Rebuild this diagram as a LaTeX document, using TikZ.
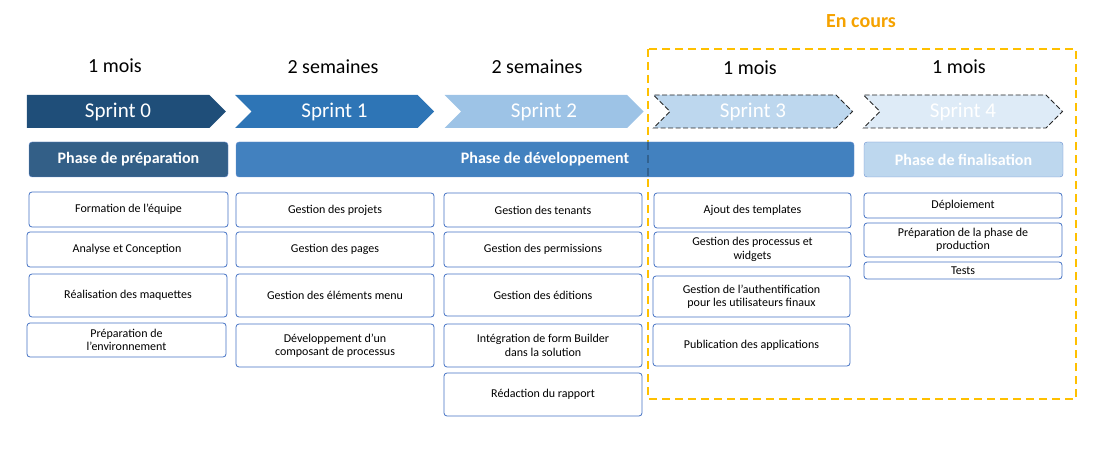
\documentclass[tikz,border=0pt]{standalone}
\usepackage{fontspec}
\setmainfont{Carlito}
\usetikzlibrary{positioning,shapes.symbols}

\definecolor{sprintzero}{HTML}{1F4E79}
\definecolor{sprintone}{HTML}{2E75B6}
\definecolor{sprinttwo}{HTML}{9DC3E6}
\definecolor{sprintthree}{HTML}{BDD7EE}
\definecolor{sprintfour}{HTML}{DEEBF7}
\definecolor{phaseprep}{HTML}{335F87}
\definecolor{phasedev}{HTML}{4281BF}
\definecolor{phasefin}{HTML}{BDD7EE}
\definecolor{boxline}{HTML}{4472C4}
\definecolor{encours}{HTML}{FFC000}
\definecolor{encourstext}{HTML}{F5A200}

\begin{document}
\begin{tikzpicture}[
        x=1pt, y=-1pt,
        sprint/.style={
            signal,
            signal to=east,
            signal from=west,
            signal pointer angle=90,
            minimum height=33pt,
            minimum width=199pt,
            inner sep=0pt,
            text=white,
            font=\fontsize{21}{24}\selectfont
        },
        todo/.style={
            sprint,
            draw=black!85,
            dash pattern=on 5pt off 2.5pt,
            line width=0.9pt
        },
        duration/.style={
            font=\fontsize{20}{24}\selectfont
        },
        phase/.style={
            rectangle,
            draw=boxline!80,
            rounded corners=3pt,
            minimum height=35pt,
            inner sep=0pt,
            text=white,
            font=\fontsize{16}{18}\selectfont\bfseries
        },
        task/.style={
            rectangle,
            draw=boxline,
            fill=white,
            line width=0.8pt,
            rounded corners=3pt,
            minimum width=198pt,
            minimum height=35pt,
            inner sep=0pt,
            align=center,
            font=\fontsize{12}{13.5}\selectfont
        }
    ]
    \useasboundingbox (0,0) rectangle (1094,449);

    % Current sprints frame
    \node[font=\fontsize{20}{24}\selectfont\bfseries, text=encourstext] (encours) at (861,21) {En cours};
    \draw[encours, line width=2.6pt, dash pattern=on 8pt off 5pt] (648,49) rectangle (1076,399);

    % Durations
    \node[duration] (d0) at (115,66) {1 mois};
    \node[duration] (d1) at (333,67) {2 semaines};
    \node[duration] (d2) at (537,67) {2 semaines};
    \node[duration] (d3) at (750,68) {1 mois};
    \node[duration] (d4) at (959,67) {1 mois};

    % Sprints
    \node[sprint, signal from=nowhere, fill=sprintzero] (s0) at (118,111.5) {Sprint 0};
    \node[sprint, fill=sprintone] (s1) at (334.5,111.5) {Sprint 1};
    \node[sprint, fill=sprinttwo] (s2) at (544,111.5) {Sprint 2};
    \node[todo, fill=sprintthree] (s3) at (753,111.5) {Sprint 3};
    \node[todo, fill=sprintfour] (s4) at (963,111.5) {Sprint 4};

    % Phases
    \node[phase, fill=phaseprep, minimum width=199pt] (prep) at (128.5,159.5) {Phase de préparation};
    \node[phase, fill=phasedev, minimum width=618pt] (dev) at (545,159.5) {Phase de développement};
    \node[phase, fill=phasefin, minimum width=199pt] (fin) at (963.5,159.5) {Phase de finalisation};
    % frame seen through the development phase
    \draw[phasedev!60!black, opacity=0.6, line width=2pt, dash pattern=on 8pt off 5pt] (dev.north -| encours.center) ++(-213,0) -- ++(0,35);

    % Sprint 0 tasks
    \node[task, minimum width=199pt] (t0a) at (128.5,209.5) {Formation de l’équipe};
    \node[task, minimum width=200pt] (t0b) at (127,249.5) {Analyse et Conception};
    \node[task, minimum height=43pt] (t0c) at (128,295.5) {Réalisation des maquettes};
    \node[task, minimum width=199pt, minimum height=34pt] (t0d) at (126.5,340) {Préparation de\\l’environnement};

    % Sprint 1 tasks
    \node[task, minimum height=34pt] (t1a) at (335,210) {Gestion des projets};
    \node[task] (t1b) at (335,249.5) {Gestion des pages};
    \node[task, minimum height=43pt] (t1c) at (335,295.5) {Gestion des éléments menu};
    \node[task, minimum height=43pt] (t1d) at (335,345.5) {Développement d'un\\composant de processus};

    % Sprint 2 tasks
    \node[task, minimum height=34pt] (t2a) at (543,210) {Gestion des tenants};
    \node[task] (t2b) at (543,249.5) {Gestion des permissions};
    \node[task, minimum height=42pt] (t2c) at (543,295) {Gestion des éditions};
    \node[task, minimum height=43pt] (t2d) at (543,345.5) {Intégration de form Builder\\dans la solution};
    \node[task, minimum height=43pt] (t2e) at (543,394.5) {Rédaction du rapport};

    % Sprint 3 tasks
    \node[task, minimum width=197pt] (t3a) at (752.5,210.5) {Ajout des templates};
    \node[task, minimum width=197pt] (t3b) at (752.5,249.5) {Gestion des processus et\\widgets};
    \node[task, minimum width=197pt, minimum height=41pt] (t3c) at (751.5,296.5) {Gestion de l'authentification\\pour les utilisateurs finaux};
    \node[task, minimum width=197pt, minimum height=42pt] (t3d) at (751.5,345) {Publication des applications};

    % Sprint 4 tasks
    \node[task, minimum height=25pt] (t4a) at (963,205.5) {Déploiement};
    \node[task, minimum height=34pt] (t4b) at (963,240) {Préparation de la phase de\\production};
    \node[task, minimum height=17pt] (t4c) at (963,270.5) {Tests};

\end{tikzpicture}
\end{document}
